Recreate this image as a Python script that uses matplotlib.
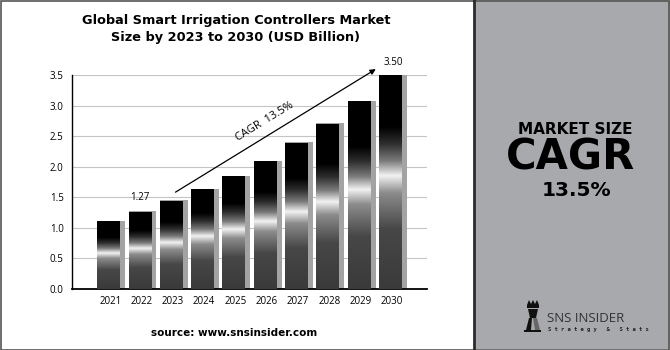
import numpy as np
import matplotlib
matplotlib.use("Agg")
import matplotlib.pyplot as plt
from matplotlib.colors import LinearSegmentedColormap
from matplotlib.patches import Rectangle, Polygon

years = ["2021", "2022", "2023", "2024", "2025", "2026", "2027", "2028", "2029", "2030"]
values = [1.12, 1.27, 1.45, 1.64, 1.85, 2.10, 2.40, 2.71, 3.08, 3.50]
yticks = [0.0, 0.5, 1.0, 1.5, 2.0, 2.5, 3.0, 3.5]
title = "Global Smart Irrigation Controllers Market\nSize by 2023 to 2030 (USD Billion)"
cagr_text = "CAGR  13.5%"
label_2022 = "1.27"
label_2030 = "3.50"

W, H = 670, 350
fig = plt.figure(figsize=(6.7, 3.5), dpi=100)
fig.patch.set_facecolor("white")

def fx(x):
    return x / W

def fy(y):
    return 1 - y / H

# Right gray panel and borders
fig.patches.append(Rectangle((fx(474), fy(349)), fx(670) - fx(474), fy(0) - fy(349),
                             transform=fig.transFigure, facecolor="#a8a9ad", edgecolor="none", zorder=0))
fig.patches.append(Rectangle((fx(0.5), fy(349.5)), fx(669) - fx(0.5), fy(0.5) - fy(349.5),
                             transform=fig.transFigure, facecolor="none", edgecolor="#555555", lw=1.2, zorder=1))
fig.lines.append(plt.Line2D([fx(474), fx(474)], [fy(0), fy(350)], transform=fig.transFigure,
                            color="#2b2b2b", lw=2.0))

# Axes
ax = fig.add_axes([fx(72), fy(289), fx(427) - fx(72), fy(75) - fy(289)])
ax.set_facecolor("none")

cmap = LinearSegmentedColormap.from_list("barg", [
    (0.00, "#3a3a3a"),
    (0.28, "#474747"),
    (0.45, "#8c8c8c"),
    (0.53, "#f2f2f2"),
    (0.60, "#7a7a7a"),
    (0.68, "#2e2e2e"),
    (0.76, "#000000"),
    (1.00, "#000000"),
])
grad = np.linspace(0, 1, 256).reshape(-1, 1)

bw = 0.73
sw = 0.16
x = np.arange(len(years))
for xi, v in zip(x, values):
    ax.add_patch(Rectangle((xi - bw / 2, 0), bw + sw, v, facecolor="#a3a3a3", edgecolor="none", zorder=2))
    ax.imshow(grad, extent=[xi - bw / 2, xi + bw / 2, 0, v - 0.015], origin="lower",
              aspect="auto", cmap=cmap, zorder=3, interpolation="bilinear")

ax.set_xlim(-1.17, 10.17)
ax.set_ylim(0, 3.5)
ax.set_yticks(yticks)
ax.set_yticklabels([f"{t:.1f}" for t in yticks], fontsize=7, family="Open Sans")
ax.set_xticks(x + 0.05)
ax.set_xticklabels(years, fontsize=7, family="Open Sans")
ax.tick_params(length=0, pad=6)
ax.tick_params(axis="x", pad=5)
ax.grid(axis="y", color="#c4c4c4", lw=0.8, zorder=0)
ax.set_axisbelow(True)
for s in ["top", "right"]:
    ax.spines[s].set_visible(False)
ax.spines["left"].set_color("black")
ax.spines["left"].set_linewidth(1.0)
ax.spines["bottom"].set_color("black")
ax.spines["bottom"].set_linewidth(1.3)

# Arrow and labels
ax.annotate("", xy=(8.61, 3.62), xytext=(2.06, 1.56),
            arrowprops=dict(arrowstyle="-|>", lw=0.9, color="black", mutation_scale=8),
            annotation_clip=False, zorder=5)
ax.text(5.0, 2.73, cagr_text, rotation=31.5, ha="center", va="center", fontsize=8,
        family="Open Sans", rotation_mode="anchor", zorder=5)
ax.text(1.0, 1.49, label_2022, ha="center", va="center", fontsize=7, family="Open Sans", zorder=5)
ax.text(9.1, 3.70, label_2030, ha="center", va="center", fontsize=7, family="Open Sans",
        zorder=5, clip_on=False)

# Title & source
fig.text(fx(236), fy(29), title, ha="center", va="center", fontsize=9.3, fontweight="bold",
         family="DejaVu Sans", linespacing=1.35)
fig.text(fx(234), fy(333), "source: www.snsinsider.com", ha="center", va="center",
         fontsize=7.5, fontweight="bold", family="DejaVu Sans")

# Right panel text
fig.text(fx(575), fy(129), "MARKET SIZE", ha="center", va="center", fontsize=11,
         fontweight="heavy", family="DejaVu Sans", color="black")
fig.text(fx(571), fy(157), "CAGR", ha="center", va="center", fontsize=30,
         fontweight="heavy", family="DejaVu Sans", color="black")
fig.text(fx(576), fy(191), "13.5%", ha="center", va="center", fontsize=14.5,
         fontweight="heavy", family="DejaVu Sans", color="black")

# Logo (simple rook/crown icon)
def px_poly(pts, **kw):
    fig.patches.append(Polygon([(fx(a), fy(b)) for a, b in pts], closed=True,
                               transform=fig.transFigure, **kw))

px_poly([(527, 305), (529, 300), (531, 304), (533, 300), (535, 304), (537, 300), (539, 305),
         (539, 308), (527, 308)], facecolor="#111111", edgecolor="none")
px_poly([(528, 309), (538, 309), (536, 318), (530, 318)], facecolor="#111111", edgecolor="none")
px_poly([(529, 318), (532, 318), (531, 330), (526, 330)], facecolor="#111111", edgecolor="none")
px_poly([(533, 318), (537, 318), (540, 330), (535, 330)], facecolor="#666666", edgecolor="none")
px_poly([(524, 330), (541, 330), (541, 332), (524, 332)], facecolor="#111111", edgecolor="none")
fig.text(fx(547), fy(319), "SNS INSIDER", ha="left", va="center", fontsize=9.5,
         family="Open Sans", color="#333333")
fig.text(fx(548), fy(330), "S t r a t e g y   &   S t a t s", ha="left", va="center", fontsize=4,
         family="DejaVu Sans Mono", fontweight="bold", color="#222222")

fig.savefig("out.png", dpi=100)
